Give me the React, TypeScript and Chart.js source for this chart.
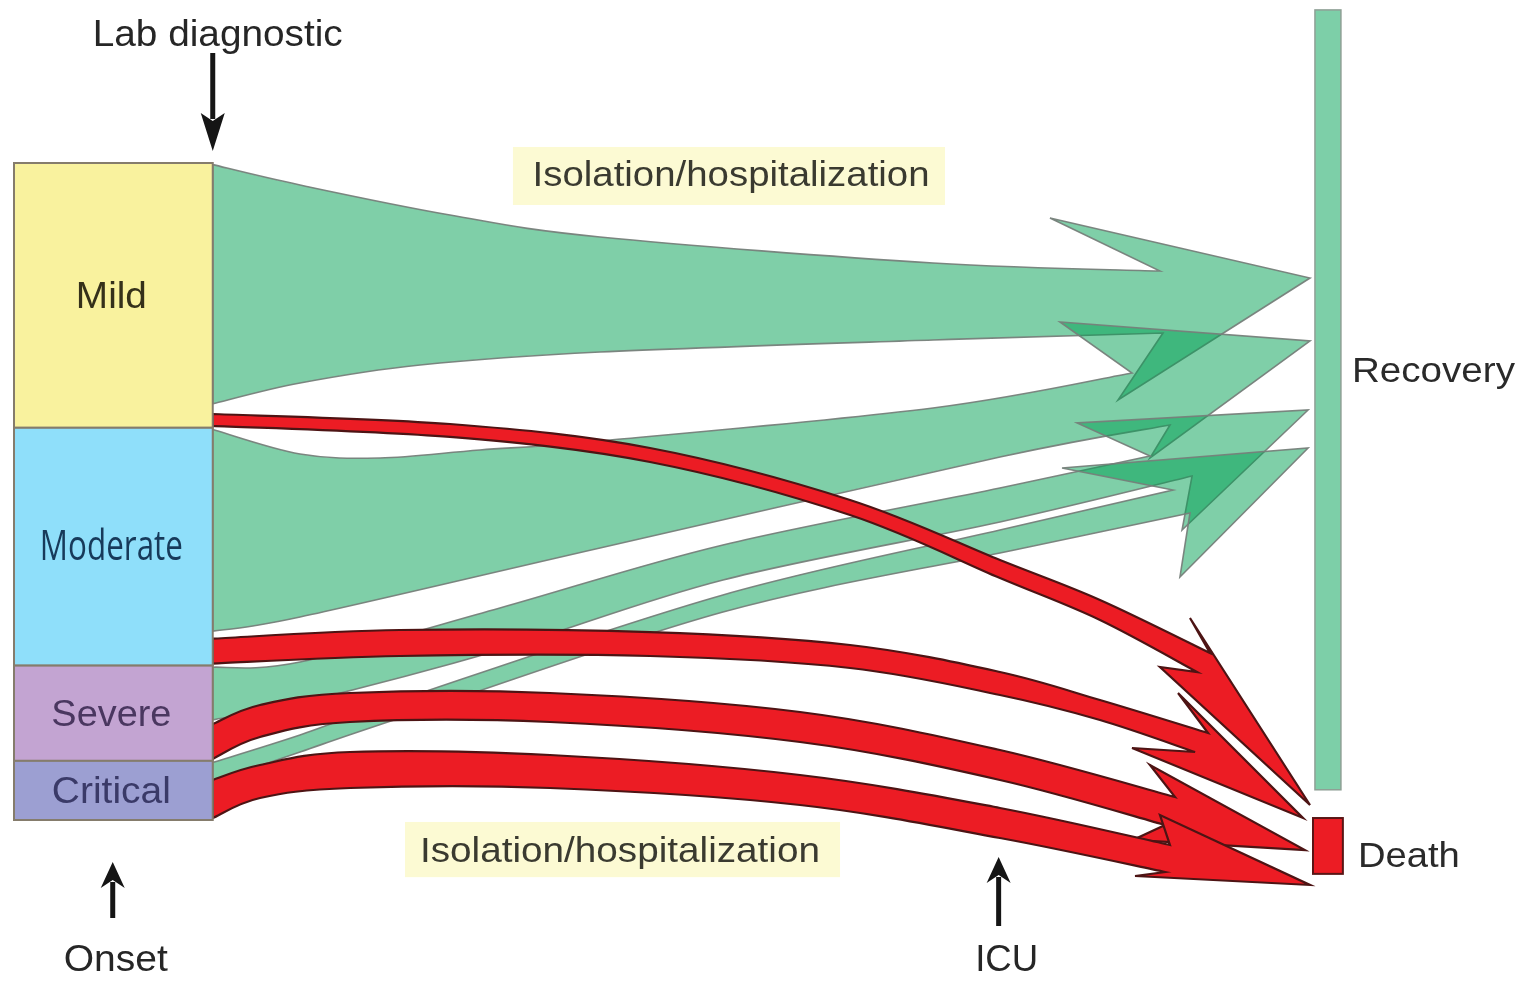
import React, { useEffect, useRef } from 'react';
import { Chart, registerables } from 'chart.js';

Chart.register(...registerables);

// ---------------- data ----------------
const stages = ['Mild', 'Moderate', 'Severe', 'Critical'];
const stageShare = [40.3, 36.2, 14.5, 9.0]; // % of patients at onset
const recoveryShare = [36.4, 30.7, 8.0, 3.0]; // % of patients recovering, per stage
const deathShare = [1.8, 3.8, 5.3, 5.8]; // % of patients dying, per stage
const milestones = ['Onset', 'Lab diagnostic', 'ICU'];
const milestoneTime = [7.6, 15.3, 75.8]; // timeline units
const outcomes = ['Recovery', 'Death'];
const phaseLabel = 'Isolation/hospitalization';

// ---------------- layout (x: timeline units, y: cumulative share units) ----------------
const boxSpan = [0, 15.3];
const recoveryBar = { x: [100.15, 102.15], y: [-23.3, 95.4] };
const deathBar = { x: [100.0, 102.3], y: [99.7, 108.2] };

const recoveryTop = [
  [[22.02, 3.35], [33.56, 7.91], [45.11, 11.26], [70.75, 15.22], [88.22, 16.44]],
  [[22.02, 44.29], [28.18, 44.9], [35.87, 43.68], [45.11, 42.31], [70.75, 37.29], [86.07, 31.96]],
  [[22.02, 75.95], [37.41, 67.73], [54.58, 58.14], [75.9, 49.47], [87.45, 44.6]],
  [[22.02, 87.06], [29.71, 81.74], [54.58, 65.75], [75.9, 55.86], [89.22, 49.77]],
];
const recoveryBottom = [
  [[22.02, 33.49], [31.26, 30.75], [45.11, 28.77], [70.75, 26.94], [88.45, 25.88]],
  [[22.02, 69.1], [45.11, 58.6], [75.9, 44.75], [88.99, 39.88]],
  [[22.02, 82.19], [37.41, 74.12], [54.58, 63.47], [75.9, 54.64], [90.69, 47.64]],
  [[22.02, 89.65], [29.71, 84.47], [54.58, 68.34], [75.9, 59.36], [90.53, 53.27]],
];
const recoveryHead = [
  [[79.75, 8.37], [99.77, 17.5], [84.99, 36.07]],
  [[80.52, 24.2], [99.77, 27.09], [87.45, 44.9]],
  [[81.83, 39.57], [99.62, 37.6], [89.92, 55.86]],
  [[80.68, 46.42], [99.62, 43.38], [89.76, 63.01]],
];
const deathTop = [
  [[33.56, 39.73], [48.96, 43.38], [64.36, 51.29], [75.9, 60.43], [83.6, 66.51], [92.07, 74.58]],
  [[29.71, 71.08], [48.96, 71.39], [64.36, 73.36], [75.9, 77.47], [83.6, 81.74], [91.92, 86.76]],
  [[18.94, 82.5], [25.87, 80.67], [41.26, 80.67], [60.51, 83.56], [75.9, 89.35], [89.38, 96.5]],
  [[18.94, 91.63], [25.87, 89.65], [41.26, 90.11], [60.51, 93.15], [75.9, 98.17], [88.99, 103.81]],
];
const deathBottom = [
  [[33.56, 41.7], [48.96, 45.51], [64.36, 53.58], [75.9, 63.17], [83.6, 69.56], [91.07, 77.47]],
  [[29.71, 75.04], [48.96, 75.04], [64.36, 76.86], [75.9, 80.97], [83.6, 84.78], [90.92, 89.65]],
  [[18.94, 87.37], [25.87, 85.08], [41.26, 85.08], [60.51, 88.13], [75.9, 93.91], [88.61, 100.76]],
  [[18.94, 96.65], [25.87, 95.13], [41.26, 95.13], [60.51, 97.72], [75.9, 102.74], [88.61, 107.91]],
];
const deathHead = [
  [[90.53, 69.25], [99.77, 97.72], [88.22, 76.71]],
  [[89.61, 80.67], [99.23, 99.7], [86.07, 89.04]],
  [[87.45, 91.63], [99.38, 104.57], [86.14, 103.04]],
  [[88.22, 99.24], [99.77, 109.89], [86.3, 108.52]],
];
const phaseBoxes = [
  { x: [38.41, 71.67], y: [-2.44, 6.39], cx: 55.2, base: 3.5, width: 397 },
  { x: [30.1, 63.59], y: [100.3, 108.7], cx: 46.65, base: 106.4, width: 400 },
];

// ---------------- styles ----------------
const stageColors = ['#f9f29e', '#8fdffa', '#c3a4d2', '#9c9fd2'];
const stageTextColors = ['#35311a', '#173a5a', '#4a3760', '#3a3a68'];
const stageTextWidths = [71, 143, 120, 119];
const stageTextSizes = [37, 42, 37, 37];
const FONT = '"Liberation Sans", Arial, sans-serif';

type Pt = [number, number];

function smoothThrough(ctx: CanvasRenderingContext2D, pts: Pt[]) {
  const n = pts.length;
  for (let i = 0; i < n - 1; i++) {
    const p0 = pts[Math.max(i - 1, 0)];
    const p1 = pts[i];
    const p2 = pts[i + 1];
    const p3 = pts[Math.min(i + 2, n - 1)];
    const c1x = p1[0] + (p2[0] - p0[0]) / 6;
    const c1y = p1[1] + (p2[1] - p0[1]) / 6;
    const c2x = p2[0] - (p3[0] - p1[0]) / 6;
    const c2y = p2[1] - (p3[1] - p1[1]) / 6;
    ctx.bezierCurveTo(c1x, c1y, c2x, c2y, p2[0], p2[1]);
  }
}

function drawText(
  ctx: CanvasRenderingContext2D,
  s: string,
  x: number,
  baseline: number,
  size: number,
  width: number,
  color: string,
  align: CanvasTextAlign = 'center',
  family: string = FONT
) {
  ctx.save();
  ctx.font = `${size}px ${family}`;
  const m = ctx.measureText(s).width;
  const k = width ? width / m : 1;
  ctx.translate(x, baseline);
  ctx.scale(k, 1);
  ctx.textAlign = align;
  ctx.textBaseline = 'alphabetic';
  ctx.fillStyle = color;
  ctx.fillText(s, 0, 0);
  ctx.restore();
}

function drawArrow(ctx: CanvasRenderingContext2D, x: number, tail: number, tip: number, headLen: number) {
  const dir = tip > tail ? 1 : -1;
  const headW = 12;
  ctx.save();
  ctx.strokeStyle = '#151515';
  ctx.fillStyle = '#151515';
  ctx.lineWidth = 5;
  ctx.beginPath();
  ctx.moveTo(x, tail);
  ctx.lineTo(x, tip - dir * (headLen - 6));
  ctx.stroke();
  ctx.beginPath();
  ctx.moveTo(x, tip);
  ctx.lineTo(x - headW, tip - dir * headLen);
  ctx.lineTo(x, tip - dir * (headLen - 8));
  ctx.lineTo(x + headW, tip - dir * headLen);
  ctx.closePath();
  ctx.fill();
  ctx.restore();
}

const flowPlugin = {
  id: 'covidFlow',
  beforeDraw(chart: any) {
    const ctx = chart.ctx as CanvasRenderingContext2D;
    ctx.save();
    ctx.fillStyle = '#ffffff';
    ctx.fillRect(0, 0, chart.width, chart.height);
    ctx.restore();
  },
  afterDraw(chart: any) {
    const ctx = chart.ctx as CanvasRenderingContext2D;
    const ca = chart.chartArea;
    const xs = chart.scales.x;
    const ys = chart.scales.y;
    const px = (v: number) => xs.getPixelForValue(v);
    const py = (v: number) => ys.getPixelForValue(v);
    const P = (p: number[]): Pt => [px(p[0]), py(p[1])];

    // cumulative stage bounds
    const bounds: number[][] = [];
    let acc = 0;
    stageShare.forEach((s) => {
      bounds.push([acc, acc + s]);
      acc += s;
    });

    // phase highlight boxes + labels
    phaseBoxes.forEach((b) => {
      ctx.save();
      ctx.fillStyle = '#fcfad3';
      ctx.fillRect(px(b.x[0]), py(b.y[0]), px(b.x[1]) - px(b.x[0]), py(b.y[1]) - py(b.y[0]));
      ctx.restore();
      drawText(ctx, phaseLabel, px(b.cx), py(b.base), 35, b.width, '#3a3a30');
    });

    const flow = (
      x0: number,
      yTop: number,
      yBot: number,
      top: number[][],
      bottom: number[][],
      head: number[][],
      fill: string,
      stroke: string,
      lw: number
    ) => {
      const tp: Pt[] = [[x0, yTop], ...top].map(P);
      const bp: Pt[] = [[x0, yBot], ...bottom].map(P).reverse();
      ctx.save();
      ctx.beginPath();
      ctx.moveTo(tp[0][0], tp[0][1]);
      smoothThrough(ctx, tp);
      head.forEach((h) => {
        const q = P(h);
        ctx.lineTo(q[0], q[1]);
      });
      ctx.lineTo(bp[0][0], bp[0][1]);
      smoothThrough(ctx, bp);
      ctx.closePath();
      ctx.fillStyle = fill;
      ctx.fill();
      ctx.lineJoin = 'miter';
      ctx.miterLimit = 6;
      ctx.strokeStyle = stroke;
      ctx.lineWidth = lw;
      ctx.stroke();
      ctx.restore();
    };

    // recovery flows (semi-transparent green)
    stages.forEach((_, i) => {
      const t = bounds[i][0] + 0.25;
      flow(boxSpan[1], t, t + recoveryShare[i], recoveryTop[i], recoveryBottom[i], recoveryHead[i],
        'rgba(0,159,81,0.5)', 'rgba(118,128,122,0.95)', 1.6);
    });

    // recovery bar
    ctx.save();
    ctx.fillStyle = '#7dcfa8';
    ctx.strokeStyle = '#8f9f95';
    ctx.lineWidth = 1.5;
    const rx = px(recoveryBar.x[0]);
    const ry = py(recoveryBar.y[0]);
    ctx.fillRect(rx, ry, px(recoveryBar.x[1]) - rx, py(recoveryBar.y[1]) - ry);
    ctx.strokeRect(rx, ry, px(recoveryBar.x[1]) - rx, py(recoveryBar.y[1]) - ry);
    ctx.restore();

    // death flows (red)
    stages.forEach((_, i) => {
      const b = bounds[i][1] - 0.3;
      flow(boxSpan[1], b - deathShare[i], b, deathTop[i], deathBottom[i], deathHead[i],
        '#ec1c24', '#4d1414', 2.2);
    });

    // death bar
    ctx.save();
    ctx.fillStyle = '#ec1c24';
    ctx.strokeStyle = '#5a1515';
    ctx.lineWidth = 2;
    const dx = px(deathBar.x[0]);
    const dy = py(deathBar.y[0]);
    ctx.fillRect(dx, dy, px(deathBar.x[1]) - dx, py(deathBar.y[1]) - dy);
    ctx.strokeRect(dx, dy, px(deathBar.x[1]) - dx, py(deathBar.y[1]) - dy);
    ctx.restore();

    // stage boxes
    stages.forEach((name, i) => {
      const x0 = px(boxSpan[0]);
      const x1 = px(boxSpan[1]);
      const y0 = py(bounds[i][0]);
      const y1 = py(bounds[i][1]);
      ctx.save();
      ctx.fillStyle = stageColors[i];
      ctx.fillRect(x0, y0, x1 - x0, y1 - y0);
      ctx.strokeStyle = '#857c6c';
      ctx.lineWidth = 2;
      ctx.strokeRect(x0, y0, x1 - x0, y1 - y0);
      ctx.restore();
      const fam = i === 1 ? '"Open Sans", ' + FONT : FONT;
      drawText(ctx, name, (x0 + x1) / 2 - 2, (y0 + y1) / 2 + 13, stageTextSizes[i], stageTextWidths[i], stageTextColors[i], 'center', fam);
    });

    // milestones
    const onsetX = px(milestoneTime[0]);
    const labX = px(milestoneTime[1]);
    const icuX = px(milestoneTime[2]);
    drawText(ctx, milestones[1], labX + 5, ca.top - 117, 36, 250, '#262626');
    drawArrow(ctx, labX, ca.top - 110, ca.top - 12, 38);
    drawArrow(ctx, onsetX, ca.bottom + 98, ca.bottom + 42, 26);
    drawText(ctx, milestones[0], onsetX + 3, ca.bottom + 151, 36, 104, '#262626');
    drawArrow(ctx, icuX, ca.bottom + 106, ca.bottom + 37, 26);
    drawText(ctx, milestones[2], icuX + 8, ca.bottom + 151, 36, 63, '#262626');

    // outcome labels
    drawText(ctx, outcomes[0], px(recoveryBar.x[1]) + 11, py(33.3), 35, 163, '#2a2a2a', 'left');
    drawText(ctx, outcomes[1], px(deathBar.x[1]) + 15, py(107.2), 35, 102, '#2a2a2a', 'left');
  },
};

export default function App() {
  const ref = useRef<HTMLCanvasElement>(null);
  useEffect(() => {
    document.body.style.margin = '0';
    const chart = new Chart(ref.current as HTMLCanvasElement, {
      type: 'scatter',
      data: { datasets: [] },
      options: {
        animation: false,
        responsive: true,
        maintainAspectRatio: false,
        events: [],
        layout: { padding: { left: 14, right: 225, top: 163, bottom: 167 } },
        scales: {
          x: { type: 'linear', min: 0, max: 100, display: false },
          y: { type: 'linear', min: 0, max: 100, reverse: true, display: false },
        },
        plugins: { legend: { display: false }, tooltip: { enabled: false } },
      },
      plugins: [flowPlugin],
    } as any);
    return () => chart.destroy();
  }, []);
  return (
    <div style={{ position: 'absolute', left: 0, top: 0, width: 1538, height: 987, background: '#fff' }}>
      <canvas ref={ref} />
    </div>
  );
}
